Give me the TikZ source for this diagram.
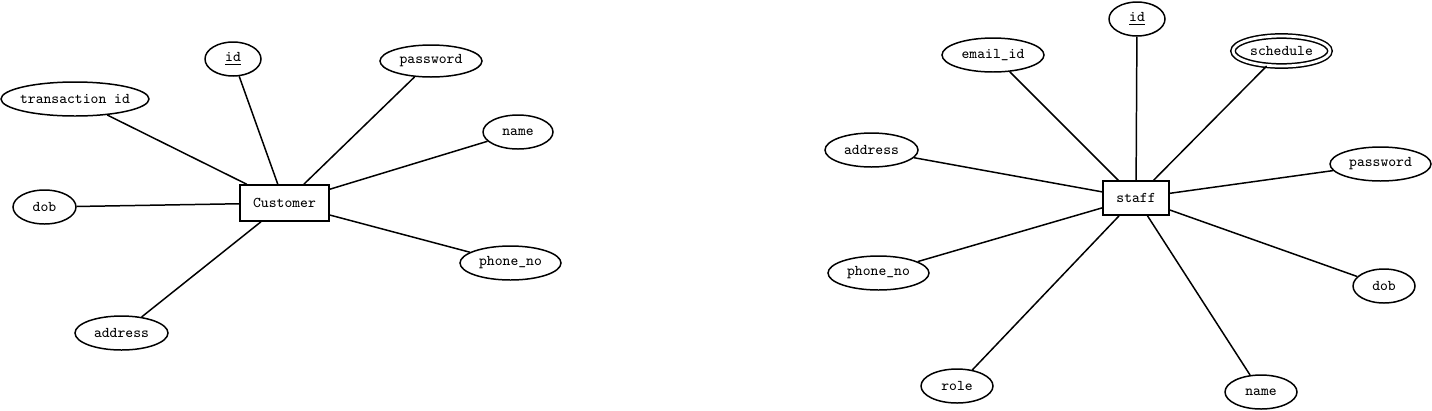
\documentclass[tikz,border=0pt]{standalone}
\usetikzlibrary{positioning,shapes.geometric}

\begin{document}
\begin{tikzpicture}[x=0.02cm,y=-0.02cm,line width=0.85pt,
  every node/.style={font=\ttfamily\fontsize{8.5}{10}\selectfont},
  attr/.style={draw,ellipse,inner sep=0pt,minimum height=0.68cm},
  mattr/.style={attr,double,double distance=1.6pt},
  ent/.style={draw,rectangle,inner sep=0pt}]

  \useasboundingbox (0,0) rectangle (1432,410);

  % customer
  \node[ent,minimum width=1.78cm,minimum height=0.72cm] (cust) at (284.5,203) {Customer};
  \node[attr,minimum width=1.12cm] (cid) at (233,59) {\underline{id}};
  \node[attr,minimum width=2.96cm,inner xsep=-3pt] (ctrans) at (75,99) {transaction id};
  \node[attr,minimum width=2.04cm,minimum height=0.64cm] (cpass) at (431,61) {password};
  \node[attr,minimum width=1.4cm] (cname) at (518,132) {name};
  \node[attr,minimum width=1.26cm] (cdob) at (44.5,207) {dob};
  \node[attr,minimum width=2.02cm] (cphone) at (510.5,263) {phone\_no};
  \node[attr,minimum width=1.86cm] (caddr) at (121.5,333) {address};
  \draw (cust) edge (cid);
  \draw (cust) edge (ctrans);
  \draw (cust) edge (cpass);
  \draw (cust) edge (cname);
  \draw (cust) edge (cdob);
  \draw (cust) edge (cphone);
  \draw (cust) edge (caddr);

  % staff
  \node[ent,minimum width=1.32cm,minimum height=0.68cm] (staff) at (1136,198) {staff};
  \node[attr,minimum width=1.12cm] (sid) at (1137,19) {\underline{id}};
  \node[attr,minimum width=2.04cm] (semail) at (993,55) {email\_id};
  \node[mattr,minimum width=1.94cm,minimum height=0.6cm] (ssched) at (1281.5,51) {schedule};
  \node[attr,minimum width=1.86cm] (saddr) at (871.5,150) {address};
  \node[attr,minimum width=2.02cm] (spass) at (1380.5,164) {password};
  \node[attr,minimum width=2.02cm] (sphone) at (878.5,273) {phone\_no};
  \node[attr,minimum width=1.24cm] (sdob) at (1384,286) {dob};
  \node[attr,minimum width=1.44cm] (srole) at (957,386) {role};
  \node[attr,minimum width=1.44cm] (sname) at (1261,392) {name};
  \draw (staff) edge (sid);
  \draw (staff) edge (semail);
  \draw (staff) edge (ssched);
  \draw (staff) edge (saddr);
  \draw (staff) edge (spass);
  \draw (staff) edge (sphone);
  \draw (staff) edge (sdob);
  \draw (staff) edge (srole);
  \draw (staff) edge (sname);
\end{tikzpicture}
\end{document}
